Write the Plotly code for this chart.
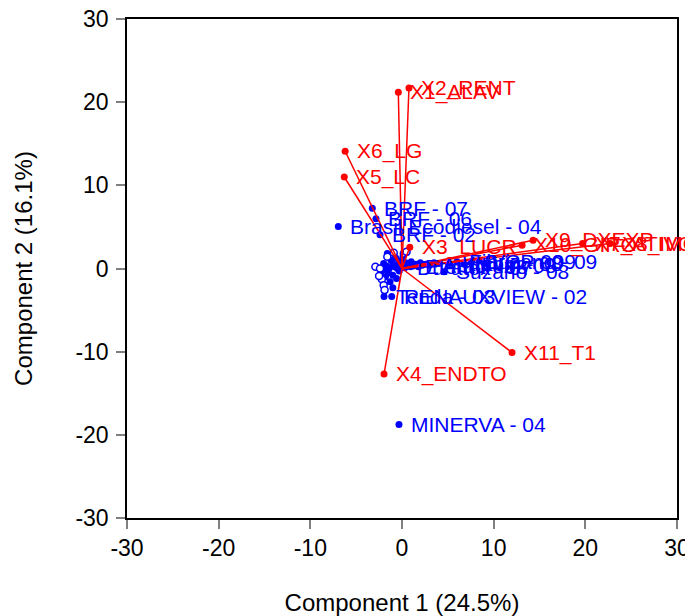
import plotly.graph_objects as go

# ---- variable loadings (red vectors) ----
var_names = ["X1_ALAV", "X2_RENT", "X3_LUCR", "X4_ENDTO", "X5_LC", "X6_LG",
             "X7_ATIVO", "X8_IMOB", "X9_DXEXP", "X10_GIRO", "X11_T1"]
var_pc1 = [-0.40, 0.76, 0.85, -1.96, -6.3, -6.2, 19.7, 22.7, 14.3, 13.1, 12.0]
var_pc2 = [21.2, 21.7, 2.55, -12.7, 11.0, 14.1, 3.0, 3.0, 3.4, 2.8, -10.1]

# ---- labelled observations (blue filled dots) ----
obs_names = ["BRF - 07", "BRF - 06", "Brasil Ecodiesel - 04", "BRF - 02",
             "MINERVA - 04", "Tenda - 03", "RENAUXVIEW - 02",
             "Suzano - 08", "Suzano - 09", "Klabin - 08", "Fibria - 09",
             "Aracruz - 08", "VCP - 09", "Duratex - 07", "Eternit - 08"]
obs_pc1 = [-3.24, -2.84, -6.95, -2.40, -0.33, -1.96, -1.12,
           4.6, 7.6, 5.2, 6.0, 3.0, 8.4, 0.3, 1.2]
obs_pc2 = [7.25, 5.97, 5.05, 4.05, -18.75, -3.37, -3.37,
           -0.4, 0.85, 0.6, 0.8, 0.4, 0.9, 0.1, 0.3]

# ---- unlabelled cluster observations near the origin ----
clu_pc1 = [-1.2, -1.0, -0.8, -0.5, -0.3, 0.0, 0.6, 0.9, 1.5, 1.8, 2.2, 2.6,
           -1.5, -1.8, -1.3, -1.0, -0.6, -2.0, -1.7, -2.3, -1.4, -0.2, 0.4,
           -0.7, 1.0, 2.0, 3.5, 4.0, 6.8, 9.0, -1.0, -1.6, -2.1, 0.1, -0.4]
clu_pc2 = [1.0, 0.5, 0.2, 0.0, -0.3, 0.3, 0.4, 0.2, 0.5, 0.2, 0.4, 0.5,
           -0.5, -1.0, -1.6, -0.8, -1.2, 0.6, 0.3, -0.4, 0.0, 0.9, 0.7,
           1.3, 0.8, 0.7, 0.7, 0.6, 0.5, 0.6, -2.3, 1.8, -0.2, 1.4, 0.6]

# open-circle observations
open_pc1 = [-2.9, -2.2, -2.0, -1.9, -1.6, -0.9, 0.2, 0.5, -2.4, -2.5]
open_pc2 = [0.2, -1.3, -2.0, -2.6, 1.4, 1.9, 1.8, 2.0, 0.0, -0.9]

tick_vals = [-30, -20, -10, 0, 10, 20, 30]
tick_text = ["-30", "-20", "-10", "0", "10", "20", "30"]

BLUE = "#0000FF"
RED = "#FF0000"
FONT = "Liberation Sans, Arial, sans-serif"

fig = go.Figure()

# blue observations
fig.add_trace(go.Scatter(x=clu_pc1, y=clu_pc2, mode="markers",
                         marker=dict(color=BLUE, size=7), hoverinfo="skip"))
fig.add_trace(go.Scatter(x=open_pc1, y=open_pc2, mode="markers",
                         marker=dict(color="white", size=7,
                                     line=dict(color=BLUE, width=1.5)),
                         hoverinfo="skip"))
fig.add_trace(go.Scatter(x=obs_pc1, y=obs_pc2, mode="markers",
                         marker=dict(color=BLUE, size=7), text=obs_names))

# red vectors
lx, ly = [], []
for a, b in zip(var_pc1, var_pc2):
    lx += [0, a, None]
    ly += [0, b, None]
fig.add_trace(go.Scatter(x=lx, y=ly, mode="lines",
                         line=dict(color=RED, width=1.5), hoverinfo="skip"))
fig.add_trace(go.Scatter(x=var_pc1, y=var_pc2, mode="markers",
                         marker=dict(color=RED, size=7), text=var_names))

annotations = []
for n, a, b in zip(obs_names, obs_pc1, obs_pc2):
    annotations.append(dict(x=a, y=b, text=n, showarrow=False, xanchor="left",
                            xshift=10, font=dict(family=FONT, size=21, color=BLUE)))
for n, a, b in zip(var_names, var_pc1, var_pc2):
    annotations.append(dict(x=a, y=b, text=n, showarrow=False, xanchor="left",
                            xshift=10, font=dict(family=FONT, size=21, color=RED)))

axis_common = dict(range=[-30, 30], tickvals=tick_vals, ticktext=tick_text,
                   ticks="outside",
                   ticklen=9, tickcolor="#808080", tickwidth=1.5,
                   showline=True, linecolor="black", linewidth=1.5, mirror=True,
                   showgrid=False, zeroline=False, automargin=False,
                   ticklabeloverflow="allow",
                   tickfont=dict(family=FONT, size=23, color="black"))

fig.update_layout(
    width=685, height=608,
    margin=dict(l=119, r=16, t=11, b=98),
    paper_bgcolor="white", plot_bgcolor="white",
    showlegend=False,
    annotations=annotations,
    xaxis=dict(**axis_common,
               title=dict(text="Component 1 (24.5%)", standoff=36,
                          font=dict(family=FONT, size=24, color="black"))),
    yaxis=dict(**axis_common, ticklabelstandoff=3,
               title=dict(text="Component 2 (16.1%)", standoff=36,
                          font=dict(family=FONT, size=24, color="black"))),
)

fig.write_html("out.html")
